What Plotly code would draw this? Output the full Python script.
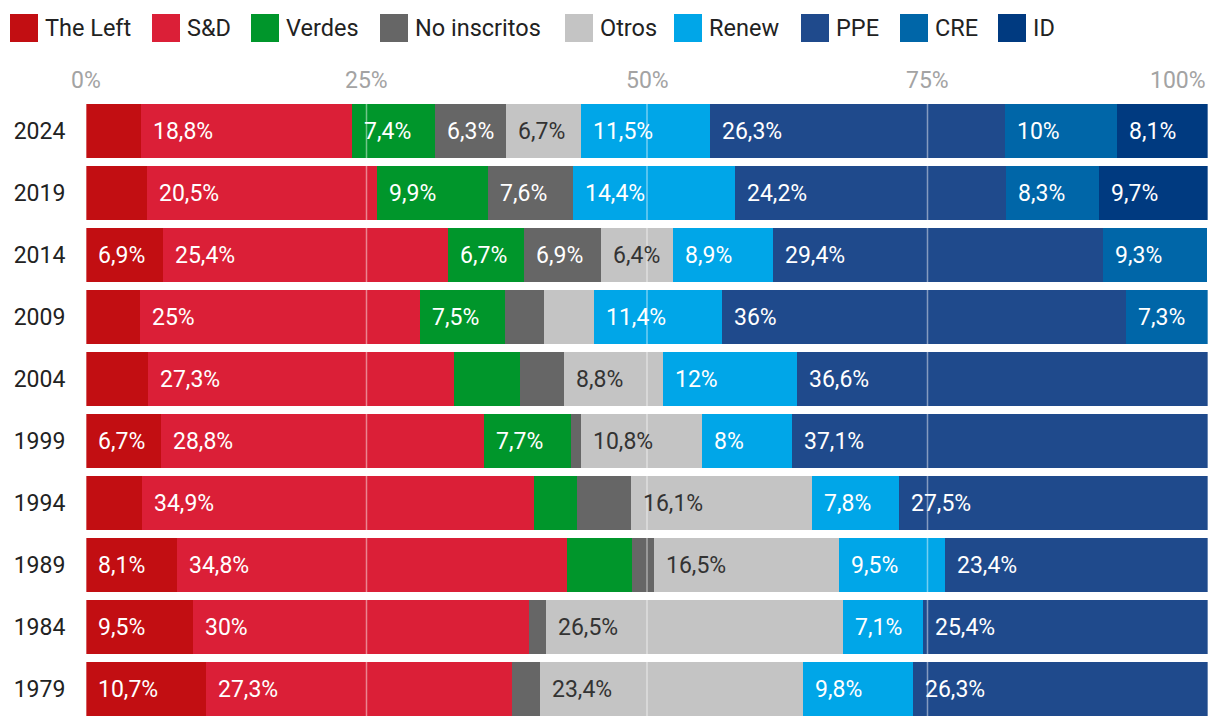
import plotly.graph_objects as go

years = ["2024", "2019", "2014", "2009", "2004", "1999", "1994", "1989", "1984", "1979"]
parties = ["The Left", "S&D", "Verdes", "No inscritos", "Otros", "Renew", "PPE", "CRE", "ID"]

the_left     = [4.9, 5.4, 6.9, 4.8, 5.5, 6.7, 5.0, 8.1, 9.5, 10.7]
s_d          = [18.8, 20.5, 25.4, 25.0, 27.3, 28.8, 34.9, 34.8, 30.0, 27.3]
verdes       = [7.4, 9.9, 6.7, 7.5, 5.9, 7.7, 3.9, 5.8, 0.0, 0.0]
no_inscritos = [6.3, 7.6, 6.9, 3.5, 3.9, 0.9, 4.8, 1.9, 1.5, 2.5]
otros        = [6.7, 0.0, 6.4, 4.5, 8.8, 10.8, 16.1, 16.5, 26.5, 23.4]
renew        = [11.5, 14.4, 8.9, 11.4, 12.0, 8.0, 7.8, 9.5, 7.1, 9.8]
ppe          = [26.3, 24.2, 29.4, 36.0, 36.6, 37.1, 27.5, 23.4, 25.4, 26.3]
cre          = [10.0, 8.3, 9.3, 7.3, 0.0, 0.0, 0.0, 0.0, 0.0, 0.0]
id_group     = [8.1, 9.7, 0.0, 0.0, 0.0, 0.0, 0.0, 0.0, 0.0, 0.0]

series = [the_left, s_d, verdes, no_inscritos, otros, renew, ppe, cre, id_group]
colors = ["#c20e12", "#db1f37", "#00962b", "#666666", "#c4c4c4", "#00a6e8", "#1f4a8c", "#0066a8", "#003a80"]
label_colors = ["white", "white", "white", "white", "#333333", "white", "white", "white", "white"]

tick_vals = [0, 25, 50, 75, 100]
tick_text = ["0%", "25%", "50%", "75%", "100%"]

FONT = "Roboto"
FS = 23
OFF = 8                      # default page margin around the figure
W, H = 1220 - 2 * OFF, 728 - 2 * OFF
ML, MR, MT, MB = 86 - OFF, 1220 - OFF - 1208, 100 - OFF, 0
PW, PH = W - ML - MR, H - MT - MB

cat_order = years[::-1]      # bottom -> top


def fmt(v):
    s = ("%.1f" % v).rstrip("0").rstrip(".")
    return s.replace(".", ",") + "%"


fig = go.Figure()
for name, vals, col in zip(parties, series, colors):
    fig.add_trace(go.Bar(
        x=vals, y=years, orientation="h", name=name,
        marker=dict(color=col, line=dict(width=0)),
        showlegend=False,
        hovertemplate="%{y} " + name + ": %{x}%<extra></extra>",
    ))

annotations = []
# value labels inside segments
for i, yr in enumerate(years):
    cum = 0.0
    ypos = cat_order.index(yr)
    for vals, lc in zip(series, label_colors):
        v = vals[i]
        if v >= 6:
            annotations.append(dict(
                x=cum, y=ypos, xref="x", yref="y", text=fmt(v), showarrow=False,
                xanchor="left", yanchor="middle", xshift=10,
                font=dict(family=FONT, size=FS, color=lc),
            ))
        cum += v

# manual legend (positions in page pixels)
legend_px = [10, 152, 251, 380, 565, 674, 801, 900, 998]
SQ = 28
LEG_CY = 28
shapes = []


def px2x(px):
    return (px - OFF - ML) / PW


def py2y(py):
    return (H - MB - (py - OFF)) / PH


for name, col, px in zip(parties, colors, legend_px):
    shapes.append(dict(
        type="rect", xref="paper", yref="paper",
        x0=px2x(px), x1=px2x(px + SQ),
        y0=py2y(LEG_CY + SQ / 2), y1=py2y(LEG_CY - SQ / 2),
        fillcolor=col, line=dict(width=0), layer="above",
    ))
    annotations.append(dict(
        x=px2x(px + SQ + 5), y=py2y(LEG_CY), xref="paper", yref="paper",
        text=name, showarrow=False, xanchor="left", yanchor="middle",
        font=dict(family=FONT, size=23.5, color="#222222"),
    ))

# x tick labels (last one right-aligned to the plot edge)
TICK_CY = 80
for v, t in zip(tick_vals, tick_text):
    annotations.append(dict(
        x=v, y=py2y(TICK_CY), xref="x", yref="paper", text=t, showarrow=False,
        xanchor="right" if v == 100 else "center", yanchor="middle",
        font=dict(family=FONT, size=FS, color="#a3a3a3"),
    ))

# gridlines drawn above bars
for v in tick_vals:
    shapes.append(dict(
        type="line", xref="x", yref="paper", x0=v, x1=v, y0=0, y1=1,
        line=dict(color="rgba(255,255,255,0.45)", width=1.5), layer="above",
    ))

fig.update_layout(
    width=W, height=H,
    margin=dict(l=ML, r=MR, t=MT, b=MB),
    barmode="stack", bargap=0.134,
    plot_bgcolor="white", paper_bgcolor="white",
    font=dict(family=FONT, size=FS, color="#222222"),
    showlegend=False,
    xaxis=dict(
        range=[0, 100], showticklabels=False,
        showgrid=False, zeroline=False, showline=False, ticks="",
        automargin=False,
    ),
    yaxis=dict(
        type="category", categoryorder="array", categoryarray=cat_order,
        range=[-0.5, len(years) - 0.5],
        showgrid=False, zeroline=False, showline=False,
        ticks="outside", ticklen=15, tickcolor="rgba(0,0,0,0)",
        tickfont=dict(family=FONT, size=FS, color="#222222"),
        automargin=False,
    ),
    shapes=shapes,
    annotations=annotations,
)

fig.write_html("out.html")
